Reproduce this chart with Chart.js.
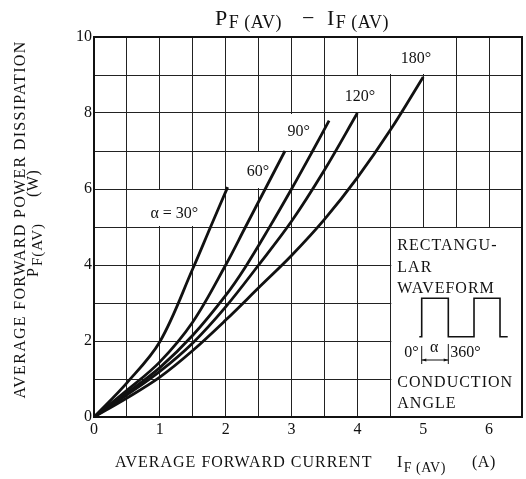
<!DOCTYPE html>
<html>
<head>
<meta charset="utf-8">
<script src="https://cdn.jsdelivr.net/npm/chart.js@4"></script>
<style>
  html, body { margin: 0; padding: 0; background: #fff; }
  #wrap { width: 526px; height: 479px; position: relative; }
</style>
</head>
<body>
<div id="wrap"><canvas id="chart"></canvas></div>
<script>
// average forward current (A) vs average power dissipation (W)
const curve30I  = [0, 0.5, 1.0, 1.5, 1.77, 2.03];
const curve30P  = [0, 0.9, 1.98, 3.9, 5.0, 6.05];
const curve60I  = [0, 0.5, 1.0, 1.5, 2.0, 2.3, 2.6, 2.9];
const curve60P  = [0, 0.7, 1.45, 2.5, 4.0, 5.0, 6.0, 7.0];
const curve90I  = [0, 0.5, 1.0, 1.5, 2.0, 2.3, 2.65, 3.0, 3.32, 3.57];
const curve90P  = [0, 0.63, 1.3, 2.15, 3.2, 3.95, 4.95, 6.0, 7.0, 7.8];
const curve120I = [0, 0.5, 1.0, 1.5, 2.0, 2.5, 3.0, 3.5, 4.0];
const curve120P = [0, 0.58, 1.2, 1.95, 2.9, 4.0, 5.15, 6.5, 8.0];
const curve180I = [0, 0.5, 1.0, 1.5, 2.0, 2.5, 3.0, 3.5, 4.0, 4.5, 5.0];
const curve180P = [0, 0.5, 1.05, 1.75, 2.55, 3.4, 4.25, 5.2, 6.3, 7.55, 8.95];

const angleLabels = ['α = 30°', '60°', '90°', '120°', '180°'];
const xTicks = [0, 1, 2, 3, 4, 5, 6];
const yTicks = [0, 2, 4, 6, 8, 10];

const serif = '"Liberation Serif", "DejaVu Serif", serif';
const toPoints = (xs, ys) => xs.map((x, i) => ({ x: x, y: ys[i] }));

// where the angle labels sit (data units) and the white cells behind them
const labelSpots = [
  { x: 1.22, y: 5.35, box: [0.5, 2.0, 5, 6] },
  { x: 2.49, y: 6.45, box: [2.0, 3.0, 6, 7] },
  { x: 3.11, y: 7.5,  box: [2.5, 3.5, 7, 8] },
  { x: 4.04, y: 8.42, box: [3.5, 4.5, 8, 9] },
  { x: 4.89, y: 9.42, box: [4.0, 5.5, 9, 10] }
];
const insetBox = [4.5, 6.5, 0, 5];

function drawSub(ctx, x, y, main, sub, mainSize, subSize, drop, ls) {
  ctx.font = mainSize + 'px ' + serif;
  ctx.letterSpacing = (ls || 0) + 'px';
  ctx.fillText(main, x, y);
  const w = ctx.measureText(main).width;
  ctx.font = subSize + 'px ' + serif;
  ctx.fillText(sub, x + w + 1, y + drop);
  return x + w + 1 + ctx.measureText(sub).width;
}

const annotations = {
  id: 'annotations',
  beforeDatasetsDraw(chart) {
    const { ctx, scales: { x, y } } = chart;
    ctx.save();
    ctx.fillStyle = '#fff';
    labelSpots.map(s => s.box).concat([insetBox]).forEach(b => {
      const l = x.getPixelForValue(b[0]), r = x.getPixelForValue(b[1]);
      const t = y.getPixelForValue(b[3]), btm = y.getPixelForValue(b[2]);
      ctx.fillRect(l + 1, t + 1, r - l - 2, btm - t - 2);
    });
    ctx.restore();
  },
  afterDatasetsDraw(chart) {
    const { ctx, chartArea: a, scales: { x, y } } = chart;
    ctx.save();
    ctx.strokeStyle = '#111';
    ctx.lineWidth = 2;
    ctx.strokeRect(a.left, a.top, a.right - a.left, a.bottom - a.top);

    // angle labels
    ctx.fillStyle = '#111';
    ctx.font = '16px ' + serif;
    ctx.textAlign = 'center';
    ctx.textBaseline = 'middle';
    labelSpots.forEach((s, i) => {
      ctx.fillText(angleLabels[i], x.getPixelForValue(s.x), y.getPixelForValue(s.y));
    });

    // inset: waveform explanation
    const L = x.getPixelForValue(insetBox[0]);
    const T = y.getPixelForValue(insetBox[3]);
    ctx.textAlign = 'left';
    ctx.textBaseline = 'alphabetic';
    ctx.letterSpacing = '1px';
    ctx.fillText('RECTANGU-', L + 7, T + 23);
    ctx.fillText('LAR', L + 7, T + 44.5);
    ctx.fillText('WAVEFORM', L + 7, T + 65.5);
    ctx.fillText('CONDUCTION', L + 7, T + 160);
    ctx.fillText('ANGLE', L + 7, T + 181);
    ctx.letterSpacing = '0px';
    ctx.fillText('0°', L + 14, T + 130);
    ctx.fillText('360°', L + 60, T + 130);
    ctx.textAlign = 'center';
    ctx.fillText('α', L + 44, T + 125);

    ctx.lineWidth = 1.6;
    ctx.beginPath();
    ctx.moveTo(L + 29, T + 109.7);
    ctx.lineTo(L + 31.4, T + 109.7);
    ctx.lineTo(L + 31.4, T + 71.3);
    ctx.lineTo(L + 58, T + 71.3);
    ctx.lineTo(L + 58, T + 109.7);
    ctx.lineTo(L + 83.7, T + 109.7);
    ctx.lineTo(L + 83.7, T + 71.3);
    ctx.lineTo(L + 109.7, T + 71.3);
    ctx.lineTo(L + 109.7, T + 109.7);
    ctx.lineTo(L + 117.4, T + 109.7);
    ctx.stroke();

    ctx.lineWidth = 1;
    ctx.beginPath();
    ctx.moveTo(L + 31.4, T + 119); ctx.lineTo(L + 31.4, T + 137);
    ctx.moveTo(L + 58, T + 117); ctx.lineTo(L + 58, T + 137);
    ctx.moveTo(L + 31.4, T + 133); ctx.lineTo(L + 58, T + 133);
    ctx.stroke();
    ctx.beginPath();
    ctx.moveTo(L + 31.4, T + 133); ctx.lineTo(L + 36, T + 131.5); ctx.lineTo(L + 36, T + 134.5); ctx.closePath();
    ctx.moveTo(L + 58, T + 133); ctx.lineTo(L + 53.4, T + 131.5); ctx.lineTo(L + 53.4, T + 134.5); ctx.closePath();
    ctx.fill();
    ctx.restore();
  },
  afterDraw(chart) {
    const { ctx } = chart;
    ctx.save();
    ctx.fillStyle = '#111';
    ctx.textAlign = 'left';
    ctx.textBaseline = 'alphabetic';

    // chart title
    drawSub(ctx, 215, 25, 'P', 'F (AV)', 22, 18, 3, 0.5);
    ctx.font = '22px ' + serif;
    ctx.letterSpacing = '0px';
    ctx.fillText('−', 302, 25);
    drawSub(ctx, 327, 25, 'I', 'F (AV)', 22, 18, 3, 0.5);

    // x axis title
    ctx.font = '16px ' + serif;
    ctx.letterSpacing = '1px';
    ctx.fillText('AVERAGE FORWARD CURRENT', 115, 467);
    drawSub(ctx, 397, 467, 'I', 'F (AV)', 16, 14, 5, 0.5);
    ctx.font = '16px ' + serif;
    ctx.letterSpacing = '0.5px';
    ctx.fillText('(A)', 472, 467);

    // y axis title, two rotated lines
    ctx.save();
    ctx.translate(25, 219.5);
    ctx.rotate(-Math.PI / 2);
    ctx.textAlign = 'center';
    ctx.font = '16px ' + serif;
    ctx.letterSpacing = '1.3px';
    ctx.fillText('AVERAGE FORWARD POWER DISSIPATION', 0, 0);
    ctx.restore();

    ctx.save();
    ctx.translate(38, 277);
    ctx.rotate(-Math.PI / 2);
    ctx.textAlign = 'left';
    drawSub(ctx, 0, 0, 'P', 'F(AV)', 16, 15, 4, 1);
    ctx.font = '16px ' + serif;
    ctx.letterSpacing = '0.5px';
    ctx.fillText('(W)', 80, 0);
    ctx.restore();

    ctx.restore();
  }
};

const lineStyle = {
  borderColor: '#111',
  borderWidth: 2.8,
  pointRadius: 0,
  fill: false,
  tension: 0.35
};

new Chart(document.getElementById('chart'), {
  type: 'line',
  data: {
    datasets: [
      { label: '30°', data: toPoints(curve30I, curve30P), ...lineStyle },
      { label: '60°', data: toPoints(curve60I, curve60P), ...lineStyle },
      { label: '90°', data: toPoints(curve90I, curve90P), ...lineStyle },
      { label: '120°', data: toPoints(curve120I, curve120P), ...lineStyle },
      { label: '180°', data: toPoints(curve180I, curve180P), ...lineStyle }
    ]
  },
  options: {
    responsive: true, maintainAspectRatio: false, animation: false,
    layout: { padding: { top: 37, right: 4, left: 0, bottom: 0 } },
    scales: {
      x: {
        type: 'linear', min: 0, max: 6.5,
        grid: { color: '#222', lineWidth: 1, drawTicks: false },
        border: { display: false },
        ticks: {
          stepSize: 0.5, autoSkip: false, maxRotation: 0, padding: 3,
          color: '#111', font: { family: serif, size: 16 },
          callback: v => xTicks.includes(v) ? String(v) : ''
        },
        afterFit: s => { s.height = 62; }
      },
      y: {
        min: 0, max: 10,
        grid: { color: '#222', lineWidth: 1, drawTicks: false },
        border: { display: false },
        ticks: {
          stepSize: 1, autoSkip: false, padding: 2,
          color: '#111', font: { family: serif, size: 16 },
          callback: v => yTicks.includes(v) ? String(v) : ''
        },
        afterFit: s => { s.width = 94; }
      }
    },
    plugins: { legend: { display: false }, tooltip: { enabled: false } }
  },
  plugins: [annotations]
});
</script>
</body>
</html>
